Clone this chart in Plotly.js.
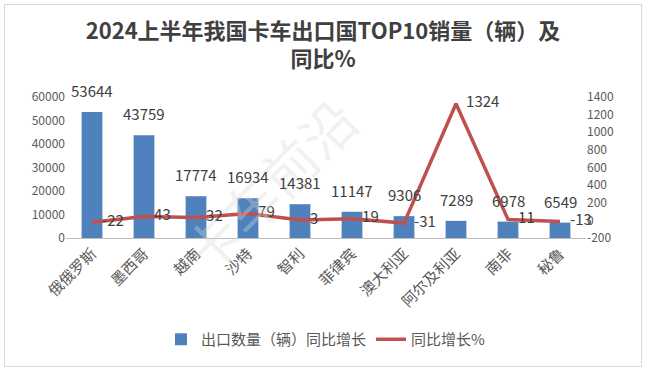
<!DOCTYPE html>
<html><head><meta charset="utf-8">
<script src="https://cdn.plot.ly/plotly-3.0.1.min.js"></script>
<style>html,body{margin:0;padding:0;background:#fff}#wrap{position:relative;width:646px;height:370px}#chart{width:646px;height:370px}#frame{position:absolute;left:4px;top:4px;width:636px;height:361px;border:1px solid #d9d9d9;pointer-events:none}</style>
</head><body>
<div id="wrap"><div id="chart"></div><div id="frame"></div></div>
<script>
const categories = ["俄俄罗斯","墨西哥","越南","沙特","智利","菲律宾","澳大利亚","阿尔及利亚","南非","秘鲁"];
const exportVolume = [53644,43759,17774,16934,14381,11147,9306,7289,6978,6549];
const yoyGrowth = [-22,43,32,79,3,19,-31,1324,11,-13];
const leftTicks = [0,10000,20000,30000,40000,50000,60000];
const rightTicks = [-200,0,200,400,600,800,1000,1200,1400];

const font = "'Noto Sans CJK SC', 'Microsoft YaHei', sans-serif";
const pad = '\u00a0\u00a0\u00a0';
const traces = [
  {type:'bar', name:'出口数量（辆）同比增长', x:categories, y:exportVolume,
   marker:{color:'#4F81BD'}, width:0.4},
  {type:'scatter', mode:'lines+text', name:'同比增长%', x:categories, y:yoyGrowth, yaxis:'y2',
   line:{color:'#C0504D', width:3.5},
   text:yoyGrowth.map(v => pad + String(v)), textposition:'middle right', cliponaxis:false,
   textfont:{family:font, size:15, color:'#404040'}}
];
const barLabels = categories.map((c, i) => ({
  x:c, y:exportVolume[i], xref:'x', yref:'y', text:String(exportVolume[i]), showarrow:false,
  yanchor:'bottom', yshift:9, font:{family:font, size:15, color:'#404040'}
}));
const layout = {
  width:646, height:370,
  margin:{l:66, r:60, t:97, b:132},
  paper_bgcolor:'#fff', plot_bgcolor:'rgba(0,0,0,0)',
  font:{family:font, color:'#595959'},
  title:{text:'<b>2024上半年我国卡车出口国TOP10销量（辆）及<br>同比%</b>', x:0.5, xanchor:'center', yref:'container', y:0.895, yanchor:'top',
    font:{family:font, size:22, color:'#404040'}},
  showlegend:true,
  legend:{orientation:'h', x:0.5, xanchor:'center', y:-0.72, yanchor:'middle', font:{family:font, size:15, color:'#595959'}, traceorder:'normal', itemwidth:30},
  bargap:0.6,
  xaxis:{type:'category', tickangle:-45, tickfont:{family:font, size:15, color:'#595959'}, showline:true, linecolor:'#bfbfbf', linewidth:1, ticks:'', showgrid:false, zeroline:false},
  yaxis:{range:[0,60000], tickvals:leftTicks, ticktext:leftTicks.map(String), showgrid:false, zeroline:false, showline:false, ticks:'', tickfont:{family:font, size:12, color:'#595959'}},
  yaxis2:{range:[-200,1400], tickvals:rightTicks, ticktext:rightTicks.map(String), overlaying:'y', side:'right', showgrid:false, zeroline:false, showline:false, ticks:'', tickfont:{family:font, size:12, color:'#595959'}},
  annotations:[{text:'卡车前沿', xref:'paper', yref:'paper', x:0.39, y:0.38, showarrow:false, textangle:-45, font:{family:font, size:54, color:'rgba(215,215,215,0.35)'}}].concat(barLabels)
};
Plotly.newPlot('chart', traces, layout, {displayModeBar:false, staticPlot:true});
</script>
</body></html>
